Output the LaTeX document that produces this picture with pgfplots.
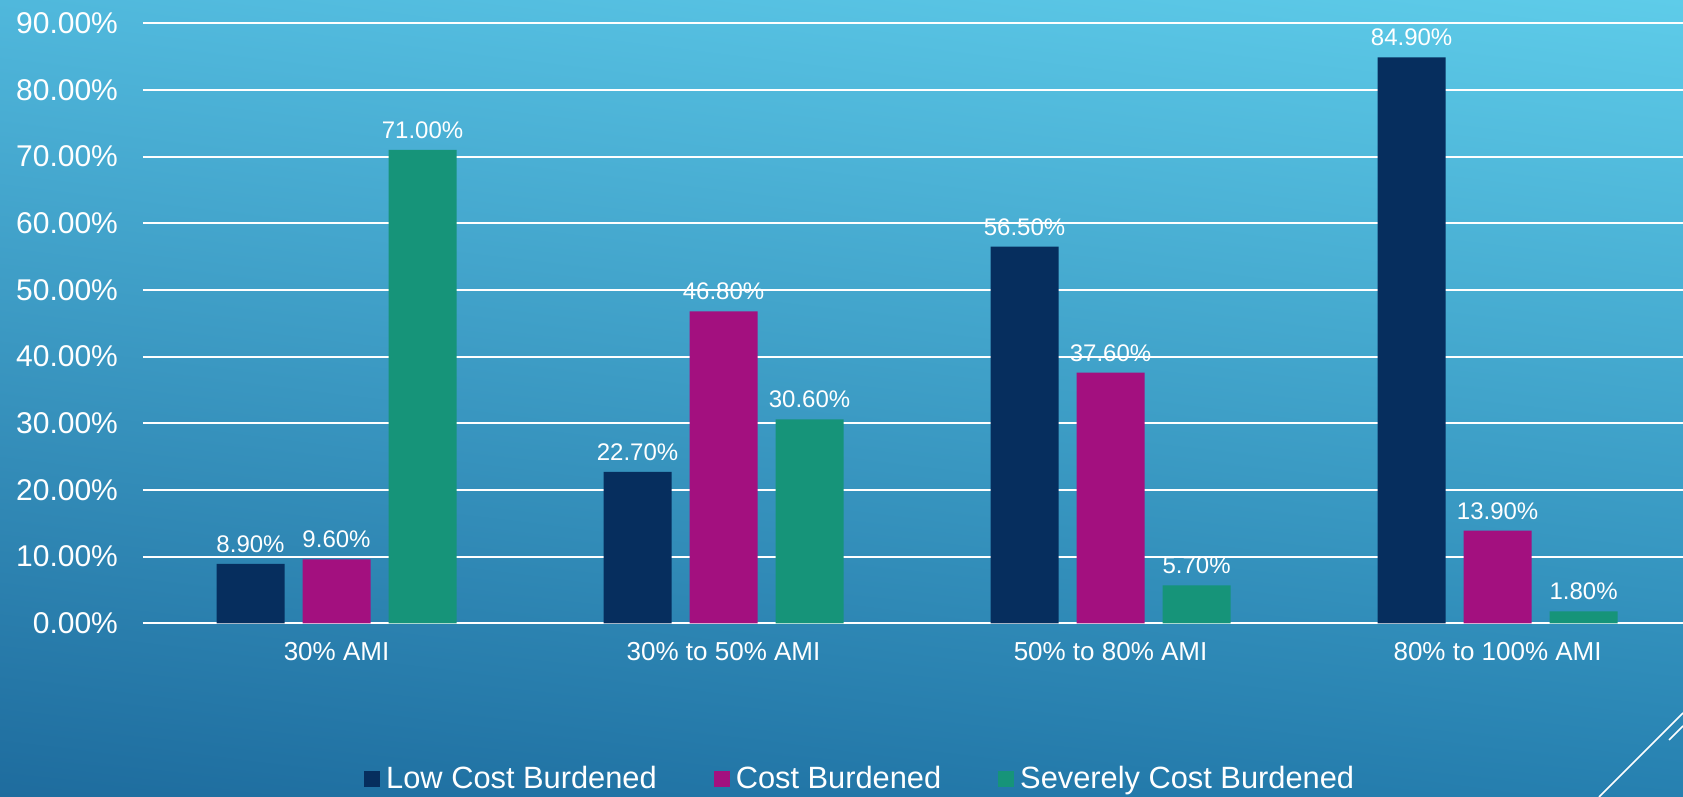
\documentclass[border=0pt]{standalone}
\usepackage{pgfplots}
\pgfplotsset{compat=1.18}
\usetikzlibrary{shadings}
\usepackage{fontspec}
\setmainfont{Liberation Sans}
\definecolor{lowc}{RGB}{6,46,94}
\definecolor{costc}{RGB}{163,16,127}
\definecolor{sevc}{RGB}{22,148,121}
\definecolor{bgUL}{RGB}{80,184,220}
\definecolor{bgUR}{RGB}{94,204,233}
\definecolor{bgLL}{RGB}{30,108,158}
\definecolor{bgLR}{RGB}{38,128,176}
\pgfplotstableread{
x low cost sev
0 8.9 9.6 71.0
1 22.7 46.8 30.6
2 56.5 37.6 5.7
3 84.9 13.9 1.8
}\datatable
\begin{document}
\begin{tikzpicture}
\useasboundingbox (0,0) rectangle (841.5pt,398.5pt);
\shade[upper left=bgUL, upper right=bgUR, lower left=bgLL, lower right=bgLR] (0,0) rectangle (841.5pt,398.5pt);
\draw[white, line width=0.8pt] (799.5pt,0pt) -- (841.5pt,42pt);
\draw[white, line width=0.8pt] (834.5pt,28.5pt) -- (841.5pt,35.5pt);
\begin{axis}[
  at={(71.5pt,86.85pt)}, anchor=south west,
  scale only axis, width=770pt, height=300pt,
  xmin=-0.5, xmax=3.479, ymin=0, ymax=90,
  ybar=9pt, bar width=34pt,
  axis y line*=left, axis x line*=bottom,
  y axis line style={draw=none},
  x axis line style={white, line width=1.2pt, -},
  ymajorgrids, grid style={white, line width=1pt},
  major tick length=0pt,
  xtick={0,1,2,3},
  xticklabels={30\% AMI, 30\% to 50\% AMI, 50\% to 80\% AMI, 80\% to 100\% AMI},
  xticklabel style={font=\fontsize{13}{15}\selectfont, text=white, yshift=-6pt},
  ytick={0,10,...,90},
  yticklabels={0.00\%,10.00\%,20.00\%,30.00\%,40.00\%,50.00\%,60.00\%,70.00\%,80.00\%,90.00\%},
  yticklabel style={font=\fontsize{15}{18}\selectfont, text=white, xshift=-9pt},
  clip=false,
  nodes near coords={\pgfmathprintnumber[fixed,fixed zerofill,precision=2]{\pgfplotspointmeta}\%},
  nodes near coords style={font=\fontsize{12}{14}\selectfont, text=white, /pgf/number format/assume math mode=true, yshift=2pt},
  legend style={at={(0.467,-0.26)}, anchor=center, legend columns=-1, draw=none, fill=none,
    text=white, font=\fontsize{15.4}{18}\selectfont,
    /tikz/every even column/.append style={column sep=25.5pt},
    nodes={inner sep=3pt}},
  legend image code/.code={\fill[#1] (0pt,-4pt) rectangle (8pt,4pt);},
]
\addplot[fill=lowc, draw=none] table[x=x, y=low] {\datatable};
\addplot[fill=costc, draw=none] table[x=x, y=cost] {\datatable};
\addplot[fill=sevc, draw=none] table[x=x, y=sev] {\datatable};
\legend{Low Cost Burdened, Cost Burdened, Severely Cost Burdened}
\end{axis}
\end{tikzpicture}
\end{document}
